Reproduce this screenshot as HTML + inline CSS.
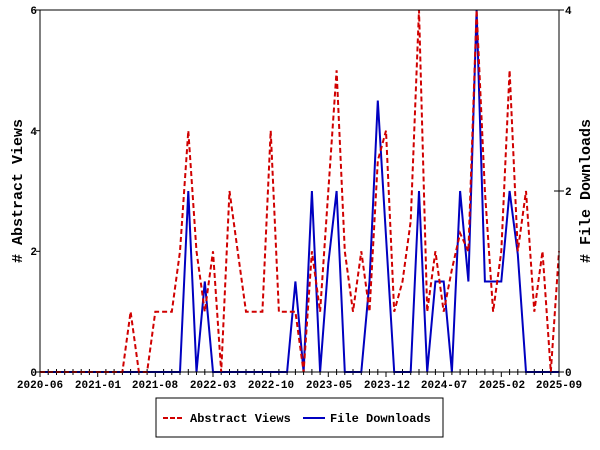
<!DOCTYPE html>
<html><head><meta charset="utf-8"><style>
html,body{margin:0;padding:0;background:#fff;}
svg{display:block;}
text{font-family:"Liberation Mono","DejaVu Sans Mono",monospace;font-weight:bold;font-size:11px;fill:#000;}
</style></head><body>
<svg id="s" width="600" height="450" viewBox="0 0 600 450" xmlns="http://www.w3.org/2000/svg">
<rect x="0" y="0" width="600" height="450" fill="#fff"/>
<g id="g"></g>
<rect x="40" y="10" width="519" height="362" fill="none" stroke="#000" stroke-width="1"/>
<g text-anchor="end" style="font-size:12px">
<text x="37" y="376">0</text><text x="37" y="255">2</text><text x="37" y="135">4</text><text x="37" y="14">6</text>
</g>
<g text-anchor="start" style="font-size:12px">
<text x="565" y="376">0</text><text x="565" y="195">2</text><text x="565" y="14">4</text>
</g>
<g text-anchor="middle">
<text x="40" y="388">2020-06</text><text x="98" y="388">2021-01</text><text x="155" y="388">2021-08</text>
<text x="213" y="388">2022-03</text><text x="271" y="388">2022-10</text><text x="329" y="388">2023-05</text>
<text x="387" y="388">2023-12</text><text x="444" y="388">2024-07</text><text x="502" y="388">2025-02</text>
<text x="559" y="388">2025-09</text>
</g>
<text x="0" y="0" text-anchor="middle" style="font-size:15px" transform="translate(22,191) rotate(-90)">#&#160;Abstract Views</text>
<text x="0" y="0" text-anchor="middle" style="font-size:15px" transform="translate(590,191) rotate(-90)">#&#160;File Downloads</text>
<rect x="156" y="398" width="287" height="39" fill="#fff" stroke="#000" stroke-width="1"/>
<line x1="163" y1="418" x2="183" y2="418" stroke="#d00000" stroke-width="2" stroke-dasharray="5,2"/>
<text x="190" y="422" style="font-size:12px">Abstract Views</text>
<line x1="303" y1="418" x2="325" y2="418" stroke="#0000c0" stroke-width="2"/>
<text x="330" y="422" style="font-size:12px">File Downloads</text>
</svg>
<script>
var red=[0,0,0,0,0,0,0,0,0,0,0,1,0,0,1,1,1,2,4,2,1,2,0,3,2,1,1,1,4,1,1,1,0,2,1,3,5,2,1,2,1,3.5,4,1,1.5,2.5,6,1,2,1,1.7,2.3,2,6,3,1,2,5,2,3,1,2,0,2];
var blue=[0,0,0,0,0,0,0,0,0,0,0,0,0,0,0,0,0,0,2,0,1,0,0,0,0,0,0,0,0,0,0,1,0,2,0,1.2,2,0,0,0,1,3,1.5,0,0,0,2,0,1,1,0,2,1,4,1,1,1,2,1.3,0,0,0,0,0];
function X(m){return 40+m*519/63;}
var h='';
for(var m=0;m<=63;m++){var x=X(m).toFixed(1);
 if(m%7==0) h+='<line x1="'+x+'" y1="372" x2="'+x+'" y2="377" stroke="#000"/>';
 else h+='<line x1="'+x+'" y1="369" x2="'+x+'" y2="375" stroke="#000"/>';}
[0,2,4,6].forEach(function(v){var y=372-v*362/6;h+='<line x1="36" y1="'+y+'" x2="40" y2="'+y+'" stroke="#000"/>';});
[0,2,4].forEach(function(v){var y=372-v*362/4;h+='<line x1="554" y1="'+y+'" x2="564" y2="'+y+'" stroke="#000"/>';});
var pr=red.map(function(v,i){return X(i).toFixed(1)+','+(372-v*362/6).toFixed(1);}).join(' ');
var pb=blue.map(function(v,i){return X(i).toFixed(1)+','+(372-v*362/4).toFixed(1);}).join(' ');
h+='<polyline points="'+pb+'" fill="none" stroke="#0000c0" stroke-width="2"/>';
h+='<polyline points="'+pr+'" fill="none" stroke="#d00000" stroke-width="2" stroke-dasharray="5,3"/>';
document.getElementById('g').innerHTML=h;
</script>
</body></html>
